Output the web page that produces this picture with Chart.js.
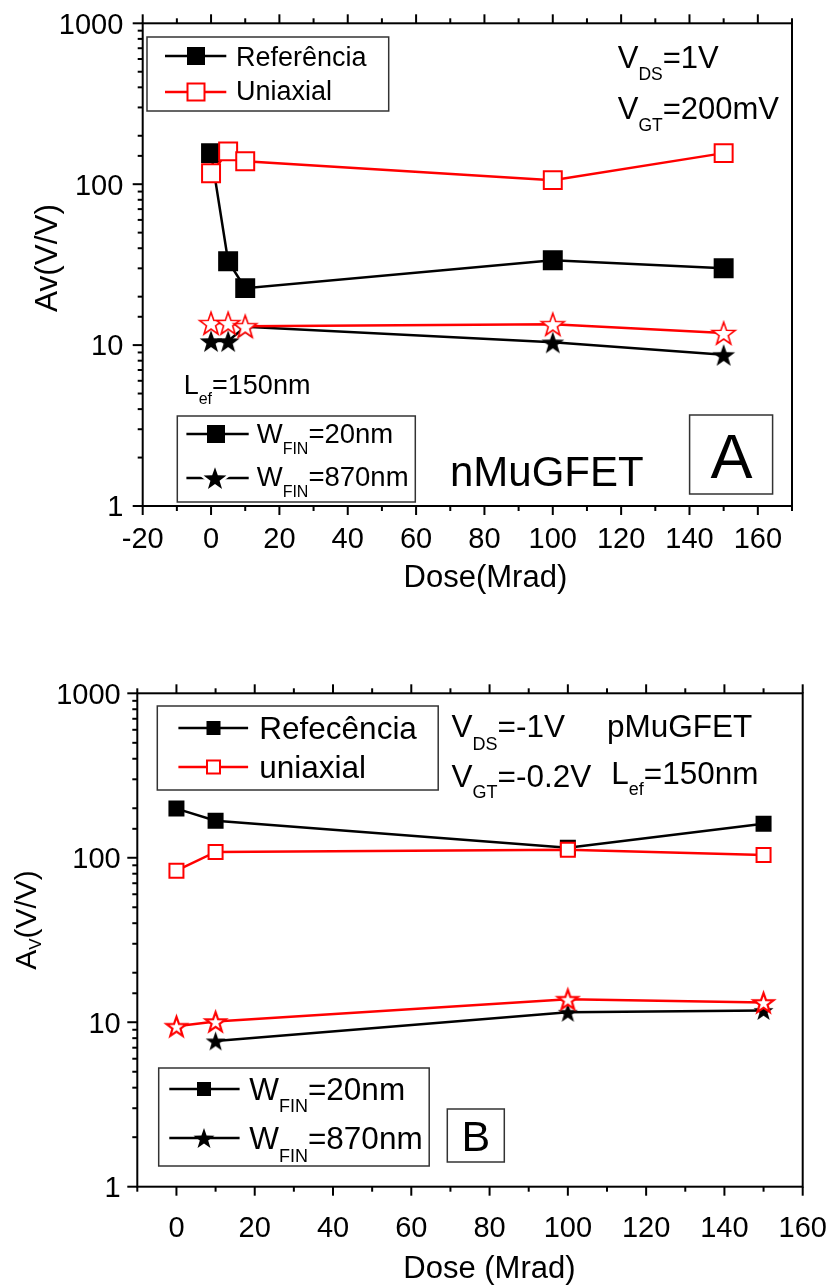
<!DOCTYPE html>
<html>
<head>
<meta charset="utf-8">
<script src="https://cdn.jsdelivr.net/npm/chart.js@4.4.0/dist/chart.umd.min.js"></script>
<style>
  body { margin: 0; background: #fff; }
  .box { position: absolute; left: 0; width: 835px; }
  #boxA { top: 0; height: 620px; }
  #boxB { top: 640px; height: 646px; }
</style>
</head>
<body>
<div class="box" id="boxA"><canvas id="chartA"></canvas></div>
<div class="box" id="boxB"><canvas id="chartB"></canvas></div>
<script>
const FONT = '"Liberation Sans", Arial, sans-serif';

// chart A - nMuGFET, Av vs dose
const doseA = [0, 5, 10, 100, 150];
const refW20A = [156, 33.2, 22.6, 33.7, 30];
const uniW20A = [117, 160, 139, 106, 156];
const refW870A = [10.6, 10.6, 13.0, 10.4, 8.7];
const uniW870A = [13.7, 13.7, 13.1, 13.5, 11.9];

// chart B - pMuGFET
const doseB = [0, 10, 100, 150];
const refW20B = [199, 168, 115, 161];
const uniW20B = [83.5, 108.5, 112, 104];
const doseRefW870B = [10, 100, 150];
const refW870B = [7.7, 11.5, 11.8];
const uniW870B = [9.46, 10.1, 13.8, 13.2];

// tick labels
const yTickLabels = [1, 10, 100, 1000];
const xTickLabelsA = [-20, 0, 20, 40, 60, 80, 100, 120, 140, 160];
const xTickLabelsB = [0, 20, 40, 60, 80, 100, 120, 140, 160];

function pts(xs, ys) {
  return xs.map((x, i) => ({ x: x, y: ys[i] }));
}

// five point star used as point style (chart.js 'star' is an asterisk)
function starImg(size, fill, stroke, lw) {
  const c = document.createElement('canvas');
  c.width = c.height = Math.ceil(size + 6);
  const g = c.getContext('2d');
  const cx = c.width / 2, cy = c.height / 2 + size * 0.05;
  const R = size / 2, r = R * 0.4;
  g.beginPath();
  for (let i = 0; i < 10; i++) {
    const a = -Math.PI / 2 + i * Math.PI / 5;
    const rad = i % 2 ? r : R;
    g.lineTo(cx + rad * Math.cos(a), cy + rad * Math.sin(a));
  }
  g.closePath();
  if (stroke && fill === '#000') {
    // white halo around a filled star
    g.lineWidth = lw;
    g.strokeStyle = stroke;
    g.stroke();
    g.fillStyle = fill;
    g.fill();
    return c;
  }
  g.fillStyle = fill;
  g.fill();
  if (stroke) {
    g.lineWidth = lw;
    g.strokeStyle = stroke;
    g.stroke();
  }
  return c;
}

// text with subscripts: parts = [text, size, dy]
function rich(ctx, x, y, parts, opt) {
  opt = opt || {};
  ctx.save();
  ctx.translate(x, y);
  if (opt.rot) ctx.rotate(opt.rot);
  ctx.fillStyle = '#000';
  ctx.textBaseline = 'alphabetic';
  ctx.textAlign = 'left';
  let w = 0;
  parts.forEach(p => {
    ctx.font = p[1] + 'px ' + FONT;
    w += ctx.measureText(p[0]).width;
  });
  let cur = opt.align === 'center' ? -w / 2 : (opt.align === 'right' ? -w : 0);
  parts.forEach(p => {
    ctx.font = p[1] + 'px ' + FONT;
    ctx.fillText(p[0], cur, p[2] || 0);
    cur += ctx.measureText(p[0]).width;
  });
  ctx.restore();
}

function seg(ctx, x1, y1, x2, y2, color, lw) {
  ctx.save();
  ctx.strokeStyle = color;
  ctx.lineWidth = lw;
  ctx.beginPath();
  ctx.moveTo(x1, y1);
  ctx.lineTo(x2, y2);
  ctx.stroke();
  ctx.restore();
}

function frameBox(ctx, l, t, r, b) {
  ctx.save();
  ctx.fillStyle = '#fff';
  ctx.fillRect(l, t, r - l, b - t);
  ctx.strokeStyle = '#333';
  ctx.lineWidth = 1.5;
  ctx.strokeRect(l, t, r - l, b - t);
  ctx.restore();
}

function sq(ctx, x, y, s, fill, stroke) {
  ctx.save();
  ctx.fillStyle = fill;
  ctx.fillRect(x - s / 2, y - s / 2, s, s);
  if (stroke) {
    ctx.strokeStyle = stroke;
    ctx.lineWidth = 2;
    ctx.strokeRect(x - s / 2, y - s / 2, s, s);
  }
  ctx.restore();
}

function star(ctx, img, x, y) {
  ctx.drawImage(img, x - img.width / 2, y - img.height / 2);
}

// frame, tick marks and tick labels, placed with the chart's scales
function axesPlugin(cfg) {
  return {
    id: 'axes' + cfg.id,
    afterDraw(chart) {
      const { ctx, chartArea: a, scales: { x, y } } = chart;
      ctx.save();
      ctx.strokeStyle = '#000';
      ctx.lineWidth = 2;
      ctx.strokeRect(a.left, a.top, a.right - a.left, a.bottom - a.top);
      x.ticks.forEach(t => {
        const px = x.getPixelForValue(t.value);
        const len = cfg.xLabels.includes(t.value) ? 9 : 5;
        seg(ctx, px, a.bottom, px, a.bottom + len, '#000', 2);
        seg(ctx, px, a.top, px, a.top - len, '#000', 2);
      });
      y.ticks.forEach(t => {
        const py = y.getPixelForValue(t.value);
        const len = yTickLabels.includes(t.value) ? 10 : 5;
        seg(ctx, a.left - len, py, a.left, py, '#000', 2);
      });
      cfg.xLabels.forEach(v => {
        rich(ctx, x.getPixelForValue(v), cfg.xLabelY, [[String(v), 29]], { align: 'center' });
      });
      yTickLabels.forEach(v => {
        rich(ctx, cfg.yLabelX, y.getPixelForValue(v) + 10.3, [[String(v), 29]], { align: 'right' });
      });
      ctx.restore();
      cfg.notes(ctx);
    }
  };
}

const redStarA = starImg(24, '#fff', '#f00', 1.6);
const blackStarA = starImg(24, '#000');
const redStarB = starImg(21, '#fff', '#f00', 2.2);
const blackStarB = starImg(21, '#000');
const legStarA = starImg(24, '#000', '#fff', 5);
const legStarB = starImg(22, '#000');

function lineSet(data, color, style, radius, fill) {
  return {
    data: data,
    borderColor: color,
    borderWidth: 2.5,
    pointStyle: style,
    pointRadius: radius,
    pointBackgroundColor: fill,
    pointBorderColor: color,
    pointBorderWidth: 2,
    tension: 0,
    clip: false
  };
}

function baseOptions(xmin, xmax, pad, xh, yw) {
  return {
    responsive: true,
    maintainAspectRatio: false,
    animation: false,
    layout: { padding: pad },
    plugins: { legend: { display: false }, tooltip: { enabled: false } },
    scales: {
      x: {
        type: 'linear', min: xmin, max: xmax,
        ticks: { display: false, stepSize: 10 },
        grid: { display: false }, border: { display: false },
        afterFit: s => { s.height = xh; }
      },
      y: {
        type: 'logarithmic', min: 1, max: 1000,
        ticks: { display: false },
        grid: { display: false }, border: { display: false },
        afterFit: s => { s.width = yw; }
      }
    }
  };
}

new Chart(document.getElementById('chartA'), {
  type: 'line',
  data: {
    datasets: [
      lineSet(pts(doseA, uniW870A), '#f00', redStarA, 12, '#fff'),
      lineSet(pts(doseA, uniW20A), '#f00', 'rect', 12.7, '#fff'),
      lineSet(pts(doseA, refW870A), '#000', blackStarA, 12, '#000'),
      lineSet(pts(doseA, refW20A), '#000', 'rect', 12.7, '#000')
    ]
  },
  options: baseOptions(-20, 170, { left: 0, top: 23.3, right: 43, bottom: 0 }, 114, 142.7),
  plugins: [axesPlugin({
    id: 'A', xLabels: xTickLabelsA, xLabelY: 548.3, yLabelX: 123.3,
    notes(ctx) {
      frameBox(ctx, 147, 37, 388.7, 111);
      seg(ctx, 165, 56, 226.3, 56, '#000', 2.5);
      sq(ctx, 196, 56, 18, '#000');
      rich(ctx, 236, 65.7, [['Referência', 27]]);
      seg(ctx, 165, 92, 226.3, 92, '#f00', 2.5);
      sq(ctx, 196, 92, 17, '#fff', '#f00');
      rich(ctx, 236, 100, [['Uniaxial', 27]]);

      rich(ctx, 617.7, 68.3, [['V', 31], ['DS', 17.5, 11.7], ['=1V', 31]]);
      rich(ctx, 617.7, 119, [['V', 31], ['GT', 17.5, 11.7], ['=200mV', 31]]);
      rich(ctx, 183.7, 394.3, [['L', 27], ['ef', 16, 10], ['=150nm', 27]]);

      frameBox(ctx, 177.3, 416, 415.3, 502);
      seg(ctx, 186.4, 434, 248.7, 434, '#000', 2.5);
      sq(ctx, 216, 434, 18, '#000');
      rich(ctx, 256.7, 442.7, [['W', 27.5], ['FIN', 16, 11.3], ['=20nm', 27.5]]);
      seg(ctx, 186.4, 478, 248.7, 478, '#000', 2.5);
      star(ctx, legStarA, 215, 478);
      rich(ctx, 256.7, 485.7, [['W', 27.5], ['FIN', 16, 11], ['=870nm', 27.5]]);

      rich(ctx, 450, 485.7, [['nMuGFET', 42]]);
      frameBox(ctx, 689.6, 415, 772.6, 494);
      rich(ctx, 731.4, 478.3, [['A', 63]], { align: 'center' });

      rich(ctx, 485.4, 586.7, [['Dose(Mrad)', 31]], { align: 'center' });
      rich(ctx, 57, 258, [['Av(V/V)', 31.5]], { align: 'center', rot: -Math.PI / 2 });
    }
  })]
});

new Chart(document.getElementById('chartB'), {
  type: 'line',
  data: {
    datasets: [
      lineSet(pts(doseB, uniW870B), '#f00', redStarB, 10, '#fff'),
      lineSet(pts(doseB, uniW20B), '#f00', 'rect', 9.9, '#fff'),
      lineSet(pts(doseRefW870B, refW870B), '#000', blackStarB, 10, '#000'),
      lineSet(pts(doseB, refW20B), '#000', 'rect', 9.9, '#000')
    ]
  },
  options: baseOptions(-10, 160, { left: 0, top: 53.3, right: 32.3, bottom: 0 }, 99.3, 137.3),
  plugins: [axesPlugin({
    id: 'B', xLabels: xTickLabelsB, xLabelY: 596.7, yLabelX: 120.7,
    notes(ctx) {
      frameBox(ctx, 157.3, 66, 438.2, 150);
      seg(ctx, 178.4, 88, 248.1, 88, '#000', 2.5);
      sq(ctx, 213.5, 88, 14, '#000');
      rich(ctx, 259.3, 99.3, [['Refecência', 31.5]]);
      seg(ctx, 178.4, 127, 248.1, 127, '#f00', 2.5);
      sq(ctx, 213.5, 127, 13, '#fff', '#f00');
      rich(ctx, 259.3, 138.3, [['uniaxial', 31.5]]);

      rich(ctx, 451.5, 97.3, [['V', 31.5], ['DS', 18, 12.7], ['=-1V', 31.5]]);
      rich(ctx, 607, 97.3, [['pMuGFET', 31.5]]);
      rich(ctx, 451.5, 146.7, [['V', 31.5], ['GT', 18, 11.3], ['=-0.2V', 31.5]]);
      rich(ctx, 611.3, 144, [['L', 31.5], ['ef', 18, 11], ['=150nm', 31.5]]);

      frameBox(ctx, 158.7, 428, 429.2, 526);
      seg(ctx, 169.3, 449, 239.6, 449, '#000', 2.5);
      sq(ctx, 204, 449, 14, '#000');
      rich(ctx, 249.2, 460, [['W', 31.5], ['FIN', 18, 11.7], ['=20nm', 31.5]]);
      seg(ctx, 169.3, 498, 239.6, 498, '#000', 2.5);
      star(ctx, legStarB, 204, 498);
      rich(ctx, 249.2, 509.3, [['W', 31.5], ['FIN', 18, 12.4], ['=870nm', 31.5]]);

      frameBox(ctx, 447.3, 469, 504.3, 522);
      rich(ctx, 475.8, 510.7, [['B', 43]], { align: 'center' });

      rich(ctx, 489.4, 638, [['Dose (Mrad)', 31]], { align: 'center' });
      rich(ctx, 36, 280, [['A', 30], ['V', 17, 5], ['(V/V)', 30]], { align: 'center', rot: -Math.PI / 2 });
    }
  })]
});
</script>
</body>
</html>
